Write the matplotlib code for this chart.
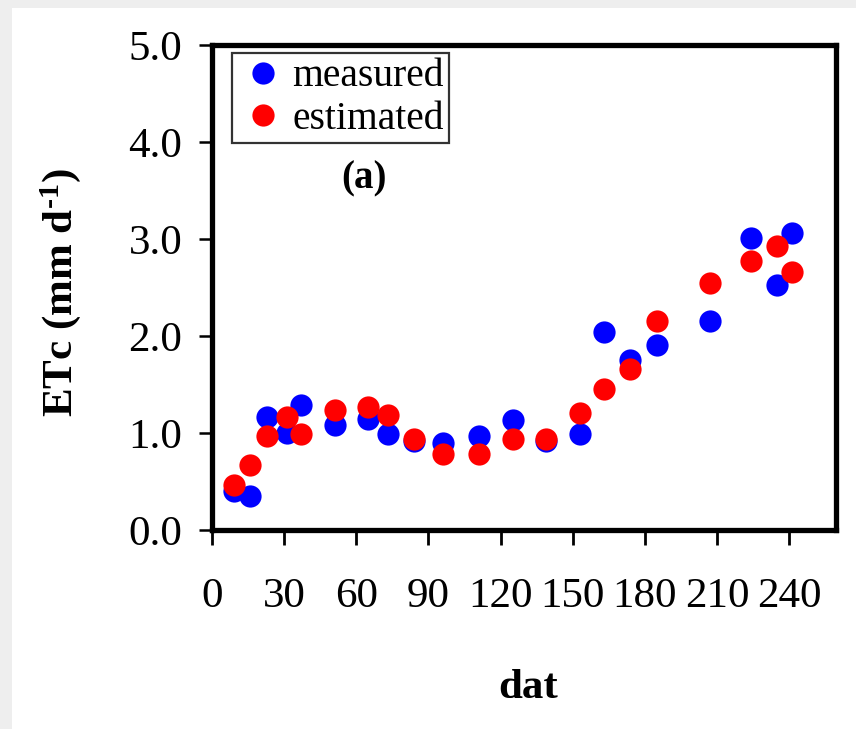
import matplotlib
matplotlib.use("Agg")
import matplotlib.pyplot as plt
from matplotlib.patches import Rectangle

plt.rcParams['font.family'] = ['Liberation Serif', 'DejaVu Serif']
plt.rcParams['mathtext.fontset'] = 'custom'
plt.rcParams['mathtext.rm'] = 'Liberation Serif:bold'
plt.rcParams['mathtext.bf'] = 'Liberation Serif:bold'
plt.rcParams['mathtext.default'] = 'bf'

# Data
dat = [9, 16, 23, 31, 37, 51, 65, 73, 84, 96, 111, 125, 139, 153, 163, 174, 185, 207, 224, 235, 241]
measured = [0.40, 0.35, 1.16, 1.00, 1.29, 1.08, 1.14, 0.99, 0.92, 0.90, 0.97, 1.13, 0.92, 0.99,
            2.04, 1.75, 1.91, 2.15, 3.01, 2.53, 3.06]
estimated = [0.46, 0.67, 0.97, 1.16, 0.99, 1.24, 1.27, 1.19, 0.94, 0.78, 0.78, 0.94, 0.94, 1.21,
             1.45, 1.66, 2.15, 2.55, 2.77, 2.93, 2.66]
xticks = [0, 30, 60, 90, 120, 150, 180, 210, 240]
yticks = [0.0, 1.0, 2.0, 3.0, 4.0, 5.0]
series_labels = ['measured', 'estimated']

W, H = 856, 729
fig = plt.figure(figsize=(W / 100, H / 100), dpi=100)
fig.patch.set_facecolor('#eeeeee')
fig.add_artist(Rectangle((12 / W, 0), 1, 1 - 8 / H, transform=fig.transFigure,
                         facecolor='white', edgecolor='none', zorder=-10))

L, R, T, B = 212, 836, 45, 530
ax = fig.add_axes([L / W, 1 - B / H, (R - L) / W, (B - T) / H])
ax.set_facecolor('white')

ax.plot(dat, measured, linestyle='none', marker='o', markersize=16,
        color='#0000ff', markeredgewidth=0, label=series_labels[0], zorder=3)
ax.plot(dat, estimated, linestyle='none', marker='o', markersize=16,
        color='#ff0000', markeredgewidth=0, label=series_labels[1], zorder=4)

ax.set_xlim(0, 259.5)
ax.set_ylim(0, 5.0)
ax.set_xticks(xticks)
ax.set_xticklabels([str(v) for v in xticks])
ax.set_yticks(yticks)
ax.set_yticklabels([f"{v:.1f}" for v in yticks])

for s in ax.spines.values():
    s.set_linewidth(3.8)
    s.set_color('black')

ax.tick_params(axis='x', direction='out', length=11, width=2, pad=23, labelsize=31)
ax.tick_params(axis='y', direction='out', length=9.5, width=1.8, pad=12, labelsize=31)

ax.set_ylabel(r'ETc (mm d$^{\text{-1}}$)', fontsize=31, fontweight='bold')
ax.yaxis.set_label_coords(-0.207, 0.49)
ax.set_xlabel('dat', fontsize=31, fontweight='bold', va='center')
ax.xaxis.set_label_coords(0.507, -0.326)

ax.text(0.244, 0.724, '(a)', transform=ax.transAxes, fontsize=28, fontweight='bold',
        ha='center', va='center')

leg = ax.legend(loc='upper left', bbox_to_anchor=(0.032, 0.983), borderaxespad=0,
                fontsize=28.5, frameon=True, fancybox=False, numpoints=1,
                borderpad=0.13, handlelength=1.3, handletextpad=0.1, labelspacing=0.15)
leg.get_frame().set_edgecolor('black')
leg.get_frame().set_linewidth(1.6)

fig.savefig('out.png', dpi=100, facecolor=fig.get_facecolor())
